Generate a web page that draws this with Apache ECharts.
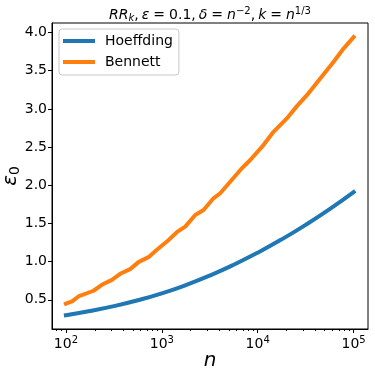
<!DOCTYPE html>
<html>
<head>
<meta charset="utf-8">
<script src="https://cdn.jsdelivr.net/npm/echarts@6.0.0/dist/echarts.min.js"></script>
<style>
    html, body { margin: 0; padding: 0; background: #fff; }
    #chart { width: 375px; height: 374px; }
</style>
</head>
<body>
<div id="chart"></div>
<script>
    // values
    const nHoeffding = [100, 178, 316, 562, 1000, 1778, 3162, 5623, 10000, 17783, 31623, 56234, 100000];
    const hoeffding = [0.297, 0.352, 0.416, 0.493, 0.584, 0.692, 0.817, 0.959, 1.117, 1.291, 1.481, 1.687, 1.910];

    const nBennett = [100, 116, 135, 194, 237, 302, 368, 468, 571, 726, 889, 1130, 1435, 1754, 2234,
        2723, 3459, 4064, 5164, 6839, 8356, 11482, 14622, 20137, 25645, 32584, 44875, 61660, 78524, 100000];
    const bennett = [0.448, 0.478, 0.543, 0.618, 0.696, 0.761, 0.840, 0.901, 0.993, 1.058, 1.154, 1.262, 1.385, 1.458, 1.611,
        1.676, 1.829, 1.895, 2.046, 2.222, 2.330, 2.526, 2.700, 2.875, 3.036, 3.180, 3.398, 3.615, 3.790, 3.940];

    const xMajorTicks = [100, 1000, 10000, 100000];
    const yTicks = [0.5, 1.0, 1.5, 2.0, 2.5, 3.0, 3.5, 4.0];

    // minor ticks 2..9 x 10^k (only the ones inside the axis range are kept by echarts)
    let xMinorTicks = [];
    for (let e = 1; e <= 4; e++) {
        for (let m = 2; m <= 9; m++) {
            xMinorTicks.push(m * Math.pow(10, e));
        }
    }

    const font = 'DejaVu Sans';

    let chart = echarts.init(document.getElementById('chart'), null, {renderer: 'canvas'});

    // mathtext-like title: thin spaces around "=" and after commas
    let titleText = '{i|RR}{sub|k}{c|,}{i|ε}{eq|=}{r|0.1}{c|,}{i|δ}{eq|=}{i|n}{sup|−2}{c|,}{i|k}{eq|=}{i|n}{sup|1/3}';

    let option = {
        animation: false,
        title: {
            text: titleText,
            left: 205,
            top: 1,
            textAlign: 'center',
            textStyle: {
                fontWeight: 'normal',
                rich: {
                    i: {fontFamily: font, fontStyle: 'italic', fontWeight: 'normal', fontSize: 14, color: '#000'},
                    r: {fontFamily: font, fontWeight: 'normal', fontSize: 14, color: '#000'},
                    c: {fontFamily: font, fontWeight: 'normal', fontSize: 14, color: '#000', padding: [0, 3, 0, 0]},
                    eq: {fontFamily: font, fontWeight: 'normal', fontSize: 14, color: '#000', padding: [0, 4, 0, 4]},
                    sub: {fontFamily: font, fontStyle: 'italic', fontWeight: 'normal', fontSize: 10, color: '#000', padding: [6, 0, 0, 0]},
                    sup: {fontFamily: font, fontWeight: 'normal', fontSize: 10, color: '#000', padding: [0, 0, 8, 0]}
                }
            }
        },
        legend: {
            left: 59,
            top: 29,
            orient: 'vertical',
            padding: [4, 6, 5, 4],
            itemGap: 5,
            itemWidth: 32,
            itemHeight: 4,
            icon: 'rect',
            backgroundColor: '#fff',
            borderColor: '#c8c8c8',
            borderWidth: 1,
            borderRadius: 3,
            textStyle: {fontFamily: font, fontSize: 14, color: '#000', padding: [0, 0, 0, 5], lineHeight: 16},
            data: ['Hoeffding', 'Bennett']
        },
        grid: {
            left: 52,
            right: 7,
            top: 23,
            bottom: 45,
            outerBoundsMode: 'none',
            containLabel: false,
            show: true,
            borderColor: '#000',
            borderWidth: 1,
            backgroundColor: 'transparent'
        },
        xAxis: [
            {
                type: 'log',
                logBase: 10,
                min: Math.pow(10, 1.855),
                max: Math.pow(10, 5.15),
                name: 'n',
                nameLocation: 'middle',
                nameGap: 22,
                nameMoveOverlap: false,
                nameTextStyle: {fontFamily: font, fontStyle: 'italic', fontSize: 20, color: '#000'},
                axisLine: {show: true, lineStyle: {color: '#000', width: 1}},
                axisTick: {show: true, customValues: xMajorTicks, length: 4, lineStyle: {color: '#000'}},
                axisLabel: {
                    customValues: xMajorTicks,
                    margin: 6,
                    formatter: function (v) {
                        let e = Math.round(Math.log10(v));
                        return '{b|10}{s|' + e + '}';
                    },
                    rich: {
                        b: {fontFamily: font, fontSize: 14, color: '#000'},
                        s: {fontFamily: font, fontSize: 10, color: '#000', padding: [0, 0, 8, 0]}
                    }
                },
                splitLine: {show: false}
            },
            {
                type: 'log',
                logBase: 10,
                min: Math.pow(10, 1.855),
                max: Math.pow(10, 5.15),
                position: 'bottom',
                axisLine: {show: false},
                axisTick: {show: true, customValues: xMinorTicks, length: 2, lineStyle: {color: '#000'}},
                axisLabel: {show: false},
                splitLine: {show: false}
            }
        ],
        yAxis: {
            type: 'value',
            min: 0.117,
            max: 4.125,
            name: '{i|ε}{sub|0}',
            nameLocation: 'middle',
            nameRotate: 90,
            nameGap: 30,
            nameMoveOverlap: false,
            nameTextStyle: {
                rich: {
                    i: {fontFamily: font, fontStyle: 'italic', fontSize: 20, color: '#000'},
                    sub: {fontFamily: font, fontSize: 14, color: '#000', padding: [8, 0, 0, 0]}
                }
            },
            axisLine: {show: true, lineStyle: {color: '#000', width: 1}},
            axisTick: {show: true, customValues: yTicks, length: 4, lineStyle: {color: '#000'}},
            axisLabel: {
                customValues: yTicks,
                margin: 5,
                fontFamily: font,
                fontSize: 14,
                color: '#000',
                formatter: function (v) { return v.toFixed(1); }
            },
            splitLine: {show: false}
        },
        series: [
            {
                name: 'Hoeffding',
                type: 'line',
                smooth: true,
                showSymbol: false,
                symbol: 'none',
                color: '#1f77b4',
                lineStyle: {width: 4, color: '#1f77b4', cap: 'square'},
                data: nHoeffding.map((n, i) => [n, hoeffding[i]])
            },
            {
                name: 'Bennett',
                type: 'line',
                showSymbol: false,
                symbol: 'none',
                color: '#ff7f0e',
                lineStyle: {width: 4, color: '#ff7f0e', cap: 'square', join: 'round'},
                data: nBennett.map((n, i) => [n, bennett[i]])
            }
        ]
    };
    chart.setOption(option);
</script>
</body>
</html>
